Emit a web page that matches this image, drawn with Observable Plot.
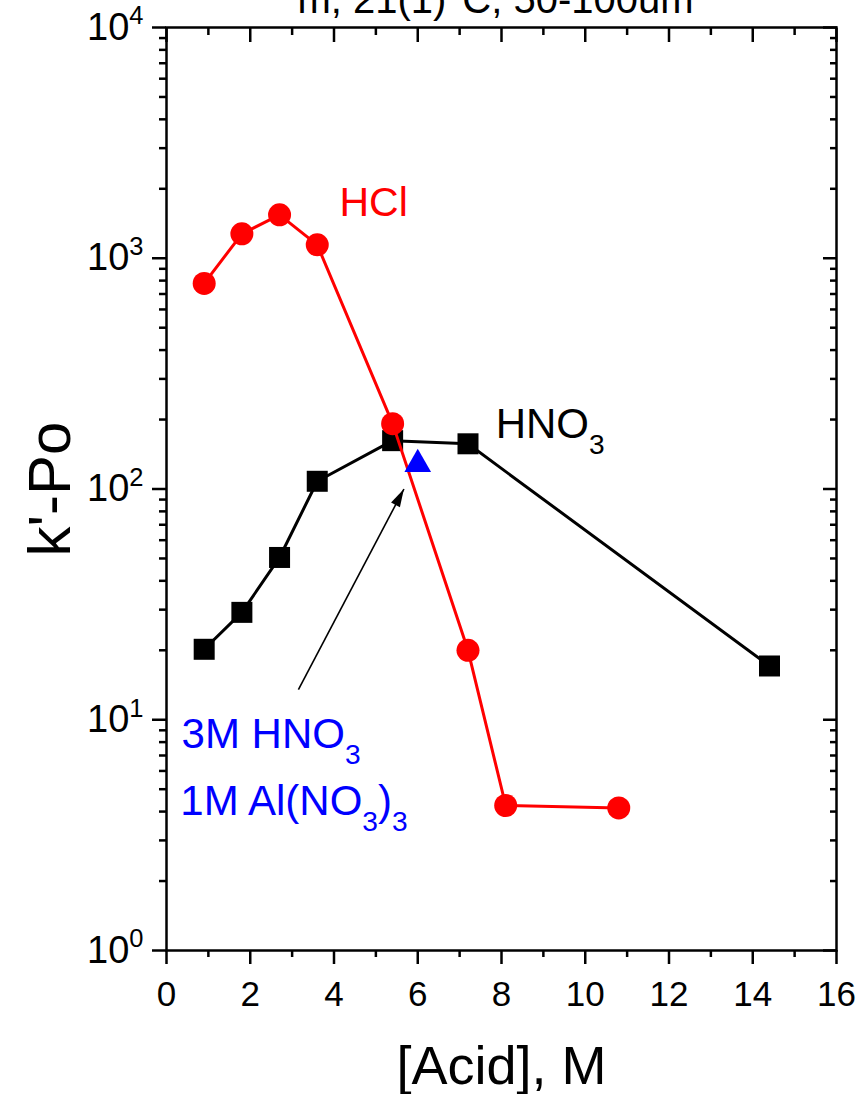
<!DOCTYPE html>
<html>
<head>
<meta charset="utf-8">
<script src="https://cdn.jsdelivr.net/npm/d3@7"></script>
<script src="https://cdn.jsdelivr.net/npm/@observablehq/plot@0.6"></script>
<style>
  html, body { margin: 0; padding: 0; background: #fff; }
  #chart svg { display: block; }
</style>
</head>
<body>
<div id="chart"></div>
<script>
// ---- data ----
const hclX  = [0.9, 1.8, 2.7, 3.6, 5.4, 7.2, 8.1, 10.8];
const hclY  = [778, 1276, 1542, 1143, 192, 20, 4.25, 4.15];
const hno3X = [0.9, 1.8, 2.7, 3.6, 5.4, 7.2, 14.4];
const hno3Y = [20.2, 29.2, 50.5, 108, 162, 157, 17.1];
const mixX  = [6.0];
const mixY  = [128];
const arrowFrom = [3.15, 13.5];
const arrowTo   = [5.67, 100];

const xMajor = [0, 2, 4, 6, 8, 10, 12, 14, 16];
const xMinor = [1, 3, 5, 7, 9, 11, 13, 15];
const yMajor = [1, 10, 100, 1000, 10000];
const yMinor = [0, 1, 2, 3].flatMap(k => [2, 3, 4, 5, 6, 7, 8, 9].map(m => m * 10 ** k));

const titleText = "m, 21(1)°C, 50-100um";
const xLabel = "[Acid], M";
const yLabel = "k'-Po";
const hclLabel  = {text: "HCl", x: 4.13, y: 1517};
const hno3Label = {text: "HNO_{3}", x: 7.86, y: 167};
const mixLabels = [
  {text: "3M HNO_{3}", x: 0.36, y: 7.58},
  {text: "1M Al(NO_{3})_{3}", x: 0.33, y: 3.85}
];

const hcl  = hclX.map((x, i) => ({x, y: hclY[i]}));
const hno3 = hno3X.map((x, i) => ({x, y: hno3Y[i]}));
const mix  = mixX.map((x, i) => ({x, y: mixY[i]}));

const AX = 2.5;
const plot = Plot.plot({
  width: 865,
  height: 1094,
  marginLeft: 166,
  marginRight: 29,
  marginTop: 27,
  marginBottom: 144,
  style: {fontFamily: "'Liberation Sans', Arial, sans-serif", background: "#fff", color: "#000"},
  x: {domain: [0, 16]},
  y: {type: "log", domain: [1, 10000]},
  marks: [
    // axes: bottom (outward) and left (outward)
    Plot.axisX({ticks: xMajor, tickSize: 14, tickPadding: 17, fontSize: 35, strokeWidth: AX, label: null}),
    Plot.axisX({ticks: xMinor, tickSize: 7, tickFormat: () => "", strokeWidth: AX, label: null}),
    Plot.axisY({ticks: yMajor, tickSize: 14, tickPadding: 9, fontSize: 38, strokeWidth: AX, label: null,
      tickFormat: d => `10^{${Math.round(Math.log10(d))}}`}),
    Plot.axisY({ticks: yMinor, tickSize: 7, tickFormat: () => "", strokeWidth: AX, label: null}),
    // top and right (inward)
    Plot.axisX({anchor: "top", ticks: xMajor, tickSize: 14, insetTop: 14, tickFormat: () => "", strokeWidth: AX, label: null}),
    Plot.axisX({anchor: "top", ticks: xMinor, tickSize: 7, insetTop: 7, tickFormat: () => "", strokeWidth: AX, label: null}),
    Plot.axisY({anchor: "right", ticks: yMajor, tickSize: 14, insetRight: 14, tickFormat: () => "", strokeWidth: AX, label: null}),
    Plot.axisY({anchor: "right", ticks: yMinor, tickSize: 7, insetRight: 7, tickFormat: () => "", strokeWidth: AX, label: null}),
    Plot.frame({strokeWidth: AX}),

    // HNO3 series
    Plot.line(hno3, {x: "x", y: "y", stroke: "#000", strokeWidth: 3}),
    Plot.dot(hno3, {x: "x", y: "y", symbol: "square", r: 11.85, fill: "#000"}),
    // HCl series
    Plot.line(hcl, {x: "x", y: "y", stroke: "#ff0000", strokeWidth: 3}),
    Plot.dot(hcl, {x: "x", y: "y", symbol: "circle", r: 11.5, fill: "#ff0000"}),
    // mixture point
    Plot.dot(mix, {x: "x", y: "y", symbol: "triangle", r: 9.9, fill: "#0000ff"}),

    // arrow
    Plot.link([0], {x1: () => arrowFrom[0], y1: () => arrowFrom[1], x2: () => arrowTo[0], y2: () => arrowTo[1], stroke: "#000", strokeWidth: 1.6}),
    Plot.vector([0], {x: () => arrowTo[0], y: () => arrowTo[1], rotate: 28, length: 18, r: 5, shape: "spike", anchor: "end", fill: "#000", stroke: "none"}),

    // annotations
    Plot.text([hclLabel], {x: "x", y: "y", text: "text", fill: "#ff0000", fontSize: 41, textAnchor: "start", lineAnchor: "bottom"}),
    Plot.text([hno3Label], {x: "x", y: "y", text: "text", fill: "#000", fontSize: 42, textAnchor: "start", lineAnchor: "bottom"}),
    Plot.text(mixLabels, {x: "x", y: "y", text: "text", fill: "#0000ff", fontSize: 42, textAnchor: "start", lineAnchor: "bottom"}),

    // titles
    Plot.text([titleText], {frameAnchor: "top", dx: -6, dy: -14.5, fontSize: 40, lineAnchor: "bottom"}),
    Plot.text([xLabel], {frameAnchor: "bottom", dy: 133, fontSize: 54, lineAnchor: "bottom"}),
    Plot.text([yLabel], {frameAnchor: "left", dx: -116, rotate: -90, fontSize: 60, textAnchor: "middle", lineAnchor: "middle"})
  ]
});

document.getElementById("chart").appendChild(plot);

// rich text: _{sub} and ^{sup}
const NS = "http://www.w3.org/2000/svg";
for (const t of plot.querySelectorAll("text")) {
  const s = t.textContent;
  if (!/[_^]\{/.test(s)) continue;
  const fs = parseFloat(getComputedStyle(t).fontSize);
  while (t.firstChild) t.removeChild(t.firstChild);
  const re = /([_^])\{([^}]*)\}|([^_^]+)/g;
  let shift = 0, m;
  while ((m = re.exec(s))) {
    const ts = document.createElementNS(NS, "tspan");
    let target;
    if (m[1]) {
      target = m[1] === "_" ? 0.38 * fs : -0.40 * fs;
      ts.setAttribute("font-size", (0.67 * fs).toFixed(1));
      ts.textContent = m[2];
    } else {
      target = 0;
      ts.textContent = m[3];
    }
    if (target !== shift) ts.setAttribute("dy", (target - shift).toFixed(1));
    shift = target;
    t.appendChild(ts);
  }
}
</script>
</body>
</html>
